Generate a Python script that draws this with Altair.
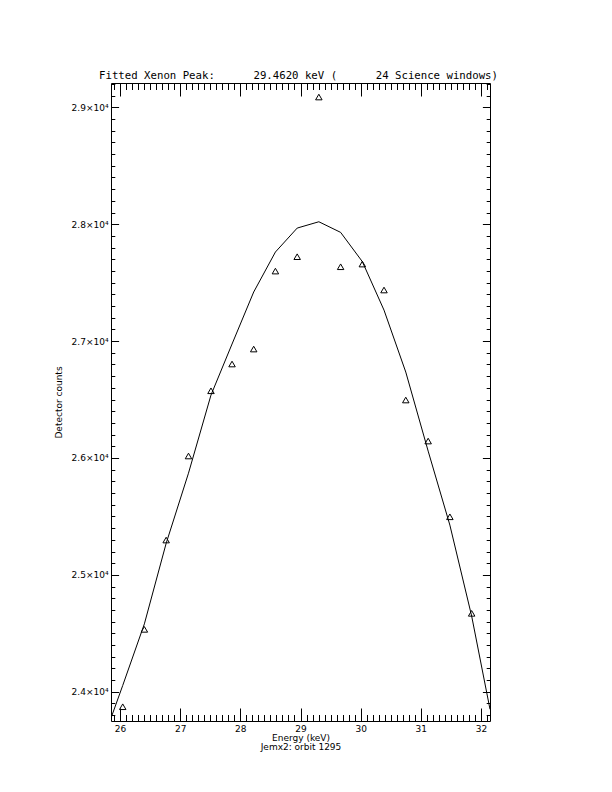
import altair as alt
import pandas as pd

# ---------------- data ----------------
energy_keV = [26.045, 26.405, 26.767, 27.138, 27.512, 27.862, 28.222, 28.583,
              28.945, 29.305, 29.667, 30.028, 30.388, 30.750, 31.122, 31.483, 31.845]
counts = [23872, 24534, 25298, 26017, 26575, 26804, 26932, 27599,
          27722, 29088, 27636, 27659, 27437, 26496, 26145, 25497, 24671]

fit_energy = [25.85, 26.045, 26.405, 26.767, 27.138, 27.512, 27.862, 28.222, 28.583,
              28.945, 29.305, 29.667, 30.028, 30.388, 30.750, 31.122, 31.483, 31.845, 32.15]
fit_counts = [23775, 24054, 24581, 25270, 25870, 26538, 26975, 27420, 27762,
              27967, 28021, 27930, 27680, 27265, 26735, 26059, 25426, 24648, 23850]

x_domain = [25.85, 32.15]
y_domain = [23750, 29208]
x_major = [26, 27, 28, 29, 30, 31, 32]
y_major = [24000, 25000, 26000, 27000, 28000, 29000]
x_minor = [round(25.9 + 0.1 * i, 1) for i in range(63)]
y_minor = list(range(23800, 29201, 100))

title_text = ("Fitted Xenon Peak:" + "\u00a0" * 6 + "29.4620 keV (" + "\u00a0" * 6
              + "24 Science windows)")
x_title = ["Energy (keV)", "Jemx2: orbit 1295"]
y_title = "Detector counts"

# ---------------- layout ----------------
W, H = 379, 638
FONT = "DejaVu Sans"

fit_df = pd.DataFrame({"e": fit_energy, "c": fit_counts})
pts_df = pd.DataFrame({"e": energy_keV, "c": counts})

xs = alt.Scale(domain=x_domain, nice=False, zero=False)
ys = alt.Scale(domain=y_domain, nice=False, zero=False)


def tick_axis(orient, values, size, offset):
    return alt.Axis(orient=orient, values=values, tickSize=size, offset=offset,
                    labels=False, domain=False, grid=False, title=None,
                    tickColor="black", tickWidth=1)


label_x_axis = alt.Axis(orient="bottom", values=x_major, ticks=False, domain=False,
                        grid=False, labelFont=FONT, labelFontSize=9, labelColor="black",
                        labelPadding=3, labelFlush=False, format="d",
                        title=x_title, titleFont=FONT, titleFontSize=9,
                        titleFontWeight="normal", titleColor="black",
                        titlePadding=0, titleLineHeight=9)
label_y_axis = alt.Axis(orient="left", values=y_major, ticks=False, domain=False,
                        grid=False, labelFont=FONT, labelFontSize=9, labelColor="black",
                        labelPadding=3, labelFlush=False,
                        labelExpr="format(datum.value / 10000, '.1f') + '\u00d710\u2074'",
                        title=y_title, titleFont=FONT, titleFontSize=9,
                        titleFontWeight="normal", titleColor="black", titlePadding=8)

fit_line = alt.Chart(fit_df).mark_line(color="black", strokeWidth=1, clip=True).encode(
    x=alt.X("e:Q", scale=xs, axis=label_x_axis),
    y=alt.Y("c:Q", scale=ys, axis=label_y_axis),
)


def ghost(xaxis, yaxis):
    return alt.Chart(fit_df).mark_line(opacity=0).encode(
        x=alt.X("e:Q", scale=xs, axis=xaxis),
        y=alt.Y("c:Q", scale=ys, axis=yaxis),
    )


XMAJ, XMIN = 13, 6.5
YMAJ, YMIN = 7.6, 3.8
g1 = ghost(tick_axis("top", x_major, XMAJ, -H), tick_axis("right", y_major, YMAJ, -W))
g2 = ghost(tick_axis("top", x_minor, XMIN, -H), tick_axis("right", y_minor, YMIN, -W))
g3 = ghost(tick_axis("bottom", x_major, XMAJ, -H), tick_axis("left", y_major, YMAJ, -W))
g4 = ghost(tick_axis("bottom", x_minor, XMIN, -H), tick_axis("left", y_minor, YMIN, -W))

points = alt.Chart(pts_df).mark_point(shape="triangle-up", filled=False, color="black",
                                      size=42, strokeWidth=1, opacity=1).encode(
    x=alt.X("e:Q", scale=xs, axis=None),
    y=alt.Y("c:Q", scale=ys, axis=None),
)

chart = alt.layer(fit_line, g1, g2, g3, g4, points).resolve_axis(
    x="independent", y="independent"
).properties(
    width=W,
    height=H,
    autosize=alt.AutoSizeParams(type="none"),
    padding={"left": 103, "top": 75, "right": 100, "bottom": 60},
    background="white",
    title=alt.TitleParams(text=title_text, font="DejaVu Sans Mono", fontSize=10.7,
                          fontWeight="normal", color="black", anchor="middle",
                          baseline="alphabetic", offset=2, dx=-2, dy=9),
).configure_view(stroke="black", strokeWidth=1)

chart.save("out.html", embed_options={"renderer": "svg", "actions": False})
